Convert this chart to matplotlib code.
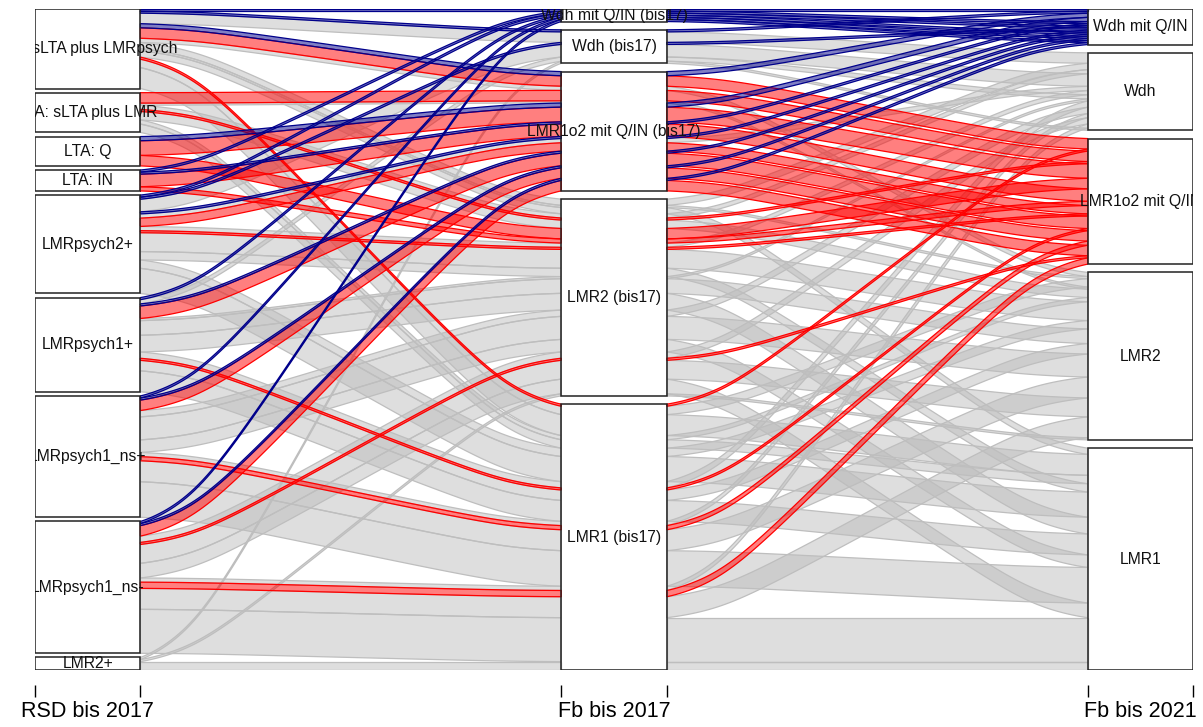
import numpy as np
import matplotlib
matplotlib.use('Agg')
import matplotlib.pyplot as plt
from matplotlib.patches import Polygon, Rectangle
from matplotlib.colors import to_rgba

plt.rcParams['font.family'] = ['Liberation Sans', 'DejaVu Sans']

axis_labels = ['RSD bis 2017', 'Fb bis 2017', 'Fb bis 2021']

# factor levels, bottom to top
rsd_levels = ['LMR2+', 'LMRpsych1_ns-', 'LMRpsych1_ns+', 'LMRpsych1+', 'LMRpsych2+',
              'LTA: IN', 'LTA: Q', 'LTA: sLTA plus LMR', 'LTA: sLTA plus LMRpsych']
fb17_levels = ['LMR1 (bis17)', 'LMR2 (bis17)', 'LMR1o2 mit Q/IN (bis17)',
               'Wdh (bis17)', 'Wdh mit Q/IN (bis17)']
fb21_levels = ['LMR1', 'LMR2', 'LMR1o2 mit Q/IN', 'Wdh', 'Wdh mit Q/IN']

# fill colour by Fb bis 2021 category, everything else grey
flow_colors = {'LMR1o2 mit Q/IN': 'red', 'Wdh mit Q/IN': 'darkblue'}

# alluvia: (RSD bis 2017, Fb bis 2017, Fb bis 2021, n)
alluvia = [
    ('LTA: sLTA plus LMRpsych', 'LMR1 (bis17)', 'LMR1', 10),
    ('LTA: sLTA plus LMRpsych', 'LMR1 (bis17)', 'LMR2', 4),
    ('LTA: sLTA plus LMRpsych', 'LMR1 (bis17)', 'LMR1o2 mit Q/IN', 1),
    ('LTA: sLTA plus LMRpsych', 'LMR2 (bis17)', 'LMR1', 3),
    ('LTA: sLTA plus LMRpsych', 'LMR2 (bis17)', 'LMR2', 1),
    ('LTA: sLTA plus LMRpsych', 'LMR2 (bis17)', 'Wdh', 3),
    ('LTA: sLTA plus LMRpsych', 'LMR1o2 mit Q/IN (bis17)', 'LMR2', 2),
    ('LTA: sLTA plus LMRpsych', 'LMR1o2 mit Q/IN (bis17)', 'LMR1o2 mit Q/IN', 5),
    ('LTA: sLTA plus LMRpsych', 'LMR1o2 mit Q/IN (bis17)', 'Wdh mit Q/IN', 2),
    ('LTA: sLTA plus LMRpsych', 'Wdh (bis17)', 'Wdh', 5),
    ('LTA: sLTA plus LMRpsych', 'Wdh (bis17)', 'Wdh mit Q/IN', 1),
    ('LTA: sLTA plus LMRpsych', 'Wdh mit Q/IN (bis17)', 'Wdh mit Q/IN', 1),

    ('LTA: sLTA plus LMR', 'LMR1 (bis17)', 'LMR1', 4),
    ('LTA: sLTA plus LMR', 'LMR1 (bis17)', 'LMR2', 2),
    ('LTA: sLTA plus LMR', 'LMR2 (bis17)', 'LMR2', 4),
    ('LTA: sLTA plus LMR', 'LMR2 (bis17)', 'LMR1o2 mit Q/IN', 1),
    ('LTA: sLTA plus LMR', 'LMR2 (bis17)', 'Wdh', 2),
    ('LTA: sLTA plus LMR', 'LMR1o2 mit Q/IN (bis17)', 'LMR2', 1),
    ('LTA: sLTA plus LMR', 'LMR1o2 mit Q/IN (bis17)', 'LMR1o2 mit Q/IN', 5),

    ('LTA: Q', 'LMR2 (bis17)', 'LMR1o2 mit Q/IN', 5),
    ('LTA: Q', 'LMR1o2 mit Q/IN (bis17)', 'LMR1o2 mit Q/IN', 7),
    ('LTA: Q', 'LMR1o2 mit Q/IN (bis17)', 'Wdh mit Q/IN', 2),

    ('LTA: IN', 'LMR2 (bis17)', 'LMR1o2 mit Q/IN', 2),
    ('LTA: IN', 'LMR1o2 mit Q/IN (bis17)', 'LMR1o2 mit Q/IN', 6),
    ('LTA: IN', 'LMR1o2 mit Q/IN (bis17)', 'Wdh mit Q/IN', 1),
    ('LTA: IN', 'Wdh mit Q/IN (bis17)', 'Wdh mit Q/IN', 1),

    ('LMRpsych2+', 'LMR1 (bis17)', 'LMR1', 12),
    ('LMRpsych2+', 'LMR1 (bis17)', 'LMR2', 4),
    ('LMRpsych2+', 'LMR2 (bis17)', 'LMR1', 4),
    ('LMRpsych2+', 'LMR2 (bis17)', 'LMR2', 9),
    ('LMRpsych2+', 'LMR2 (bis17)', 'LMR1o2 mit Q/IN', 1),
    ('LMRpsych2+', 'LMR2 (bis17)', 'Wdh', 2),
    ('LMRpsych2+', 'LMR1o2 mit Q/IN (bis17)', 'LMR1o2 mit Q/IN', 4),
    ('LMRpsych2+', 'LMR1o2 mit Q/IN (bis17)', 'Wdh', 2),
    ('LMRpsych2+', 'LMR1o2 mit Q/IN (bis17)', 'Wdh mit Q/IN', 1),
    ('LMRpsych2+', 'Wdh (bis17)', 'Wdh', 6),
    ('LMRpsych2+', 'Wdh (bis17)', 'Wdh mit Q/IN', 1),
    ('LMRpsych2+', 'Wdh mit Q/IN (bis17)', 'Wdh mit Q/IN', 1),

    ('LMRpsych1+', 'LMR1 (bis17)', 'LMR1', 10),
    ('LMRpsych1+', 'LMR1 (bis17)', 'LMR2', 5),
    ('LMRpsych1+', 'LMR1 (bis17)', 'LMR1o2 mit Q/IN', 1),
    ('LMRpsych1+', 'LMR1 (bis17)', 'Wdh', 3),
    ('LMRpsych1+', 'LMR2 (bis17)', 'LMR1', 8),
    ('LMRpsych1+', 'LMR2 (bis17)', 'LMR2', 7),
    ('LMRpsych1+', 'LMR2 (bis17)', 'Wdh', 1),
    ('LMRpsych1+', 'LMR1o2 mit Q/IN (bis17)', 'LMR1o2 mit Q/IN', 6),
    ('LMRpsych1+', 'LMR1o2 mit Q/IN (bis17)', 'Wdh mit Q/IN', 1),
    ('LMRpsych1+', 'Wdh (bis17)', 'Wdh', 2),
    ('LMRpsych1+', 'Wdh mit Q/IN (bis17)', 'Wdh mit Q/IN', 1),

    ('LMRpsych1_ns+', 'LMR1 (bis17)', 'LMR1', 17),
    ('LMRpsych1_ns+', 'LMR1 (bis17)', 'LMR2', 10),
    ('LMRpsych1_ns+', 'LMR1 (bis17)', 'LMR1o2 mit Q/IN', 2),
    ('LMRpsych1_ns+', 'LMR1 (bis17)', 'Wdh', 2),
    ('LMRpsych1_ns+', 'LMR2 (bis17)', 'LMR1', 6),
    ('LMRpsych1_ns+', 'LMR2 (bis17)', 'LMR2', 11),
    ('LMRpsych1_ns+', 'LMR2 (bis17)', 'Wdh', 3),
    ('LMRpsych1_ns+', 'LMR1o2 mit Q/IN (bis17)', 'LMR1o2 mit Q/IN', 5),
    ('LMRpsych1_ns+', 'LMR1o2 mit Q/IN (bis17)', 'Wdh mit Q/IN', 1),
    ('LMRpsych1_ns+', 'Wdh mit Q/IN (bis17)', 'Wdh mit Q/IN', 1),

    ('LMRpsych1_ns-', 'LMR1 (bis17)', 'LMR1', 21),
    ('LMRpsych1_ns-', 'LMR1 (bis17)', 'LMR2', 10),
    ('LMRpsych1_ns-', 'LMR1 (bis17)', 'LMR1o2 mit Q/IN', 3),
    ('LMRpsych1_ns-', 'LMR1 (bis17)', 'Wdh', 2),
    ('LMRpsych1_ns-', 'LMR2 (bis17)', 'LMR1', 7),
    ('LMRpsych1_ns-', 'LMR2 (bis17)', 'LMR2', 9),
    ('LMRpsych1_ns-', 'LMR2 (bis17)', 'LMR1o2 mit Q/IN', 1),
    ('LMRpsych1_ns-', 'LMR2 (bis17)', 'Wdh', 3),
    ('LMRpsych1_ns-', 'LMR1o2 mit Q/IN (bis17)', 'LMR1o2 mit Q/IN', 5),
    ('LMRpsych1_ns-', 'LMR1o2 mit Q/IN (bis17)', 'Wdh mit Q/IN', 1),
    ('LMRpsych1_ns-', 'Wdh mit Q/IN (bis17)', 'Wdh mit Q/IN', 1),

    ('LMR2+', 'LMR1 (bis17)', 'LMR1', 4),
    ('LMR2+', 'LMR2 (bis17)', 'LMR2', 1),
    ('LMR2+', 'Wdh (bis17)', 'Wdh', 1),
]

gap_width = 0.05   # total vertical gap per axis
cw = 0.1           # half width of the category boxes
xw = 0.1           # x distance of the spline control points

levels = [rsd_levels, fb17_levels, fb21_levels]
codes = np.array([[levels[j].index(row[j]) for j in range(3)] for row in alluvia])
freq = np.array([row[3] for row in alluvia], dtype=float)
freq = freq / freq.sum()


def stripes(col):
    # sort by this axis first, then the remaining axes in order
    keys = [col] + [k for k in range(codes.shape[1]) if k != col]
    o = np.lexsort([codes[:, k] for k in keys[::-1]])
    br = np.concatenate([[0.0], np.cumsum(freq[o])]) * (1 - gap_width)
    g = np.concatenate([[0], np.cumsum(np.diff(codes[o, col]) != 0)]).astype(float)
    g = g / max(g.max(), 1) * gap_width
    out = np.empty((len(o), 2))
    out[o, 0] = br[:-1] + g
    out[o, 1] = br[1:] + g
    return out


def f_blend(num, den):
    p = 2 * den * den
    u = num / den
    return u ** 3 * (10 - p + (2 * p - 15) * u + (6 - p) * u * u)


def xspline_closed(px, py, shape, steps=30):
    px, py = np.asarray(px, float), np.asarray(py, float)
    n = len(px)
    t = np.arange(steps) / steps
    xs, ys = [], []
    for k in range(n):
        idx = [(k - 1) % n, k, (k + 1) % n, (k + 2) % n]
        s1, s2 = shape[idx[1]], shape[idx[2]]
        a0 = np.where(t < s1, f_blend(t - s1, -1 - s1), 0.0)
        a2 = f_blend(t + s1, 1 + s1)
        a1 = f_blend(t - 1 - s2, -1 - s2)
        a3 = np.where(t > 1 - s2, f_blend(t - 1 + s2, 1 + s2), 0.0)
        wsum = a0 + a1 + a2 + a3
        xs.append((a0 * px[idx[0]] + a1 * px[idx[1]] + a2 * px[idx[2]] + a3 * px[idx[3]]) / wsum)
        ys.append((a0 * py[idx[0]] + a1 * py[idx[1]] + a2 * py[idx[2]] + a3 * py[idx[3]]) / wsum)
    return np.column_stack([np.concatenate(xs), np.concatenate(ys)])


dd = [stripes(j) for j in range(3)]
shape = [0, 0, 1, 1, 0, 0, 1, 1, 0]

fig = plt.figure(figsize=(12.03, 7.27), dpi=100)
ax = fig.add_axes([35 / 1203, 57 / 727, 1158 / 1203, 661 / 727])
ax.set_xlim(1 - cw, 3 + cw)
ax.set_ylim(0, 1)

# grey first, red above, blue on top
def layer(row):
    return {'LMR1o2 mit Q/IN': 1, 'Wdh mit Q/IN': 2}.get(row[2], 0)

draw_order = sorted(range(len(alluvia))[::-1], key=lambda i: layer(alluvia[i]))

for i in draw_order:
    col = flow_colors.get(alluvia[i][2], '#BEBEBE')
    for j in range(2):
        x0, x1 = j + 1 + cw, j + 2 - cw
        lo1, hi1 = dd[j][i]
        lo2, hi2 = dd[j + 1][i]
        px = [x0, x0, x0 + xw, x1 - xw, x1, x1, x1 - xw, x0 + xw, x0]
        py = [lo1, hi1, hi1, hi2, hi2, lo2, lo2, lo1, lo1]
        ax.add_patch(Polygon(xspline_closed(px, py, shape), closed=True,
                             facecolor=to_rgba(col, 0.5), edgecolor=col, lw=0.9))

# category boxes with labels
for j in range(3):
    for k, lab in enumerate(levels[j]):
        m = codes[:, j] == k
        if not m.any():
            continue
        lo, hi = dd[j][m, 0].min(), dd[j][m, 1].max()
        ax.add_patch(Rectangle((j + 1 - cw, lo), 2 * cw, hi - lo, fill=False,
                               ec='#222222', lw=1.1))
        ax.text(j + 1, (lo + hi) / 2, lab, ha='center', va='center',
                fontsize=11.3, color='#111111', clip_on=True)

for side in ['left', 'right', 'top']:
    ax.spines[side].set_visible(False)
ax.spines['bottom'].set_position(('outward', 10.8))
ax.spines['bottom'].set_color('none')
ax.set_yticks([])
ax.set_xticks([x + d for x in (1, 2, 3) for d in (-cw, cw)])
ax.set_xticklabels([])
ax.tick_params(axis='x', length=8.6, width=1.0, color='black', direction='out')
for j, lab in enumerate(axis_labels):
    ax.text(j + 1, -0.0635, lab, transform=ax.get_xaxis_transform(),
            ha='center', va='center', fontsize=15.5, clip_on=False)

fig.savefig('out.png', dpi=100)
